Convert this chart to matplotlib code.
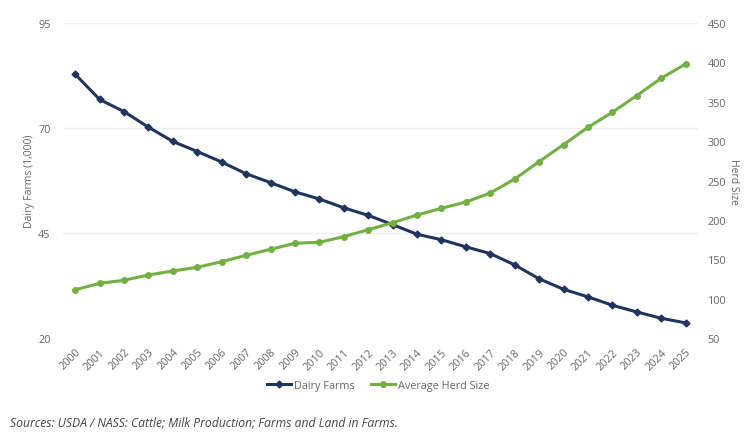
import numpy as np
import matplotlib
matplotlib.use("Agg")
import matplotlib.pyplot as plt

plt.rcParams['font.family'] = ['Open Sans', 'DejaVu Sans']

years = [str(y) for y in range(2000, 2026)]
dairy_farms = [82.8, 76.8, 73.9, 70.2, 66.8, 64.4, 61.9, 59.1, 57.0, 54.8,
               53.1, 51.0, 49.2, 47.0, 44.7, 43.4, 41.7, 40.1, 37.4, 34.1,
               31.6, 29.8, 27.8, 26.2, 24.7, 23.6]
herd_size = [111.3, 119.4, 123.3, 130.0, 135.1, 139.8, 146.9, 155.0, 162.6,
             170.3, 171.5, 178.7, 187.5, 196.4, 206.2, 214.7, 222.7, 234.1,
             251.9, 273.9, 295.5, 317.5, 336.6, 357.8, 379.9, 397.9]
left_ticks = [20, 45, 70, 95]
right_ticks = [50, 100, 150, 200, 250, 300, 350, 400, 450]

navy = '#1f3560'
green = '#72b043'
tick_col = '#666666'

fig = plt.figure(figsize=(7.56, 4.35), dpi=100)
ax = fig.add_axes([0.0833, 0.2207, 0.8397, 0.7241])
ax2 = ax.twinx()

x = np.arange(len(years))
l1, = ax.plot(x, dairy_farms, color=navy, lw=2.2, marker='D', ms=3.5,
              label='Dairy Farms', zorder=3)
l2, = ax2.plot(x, herd_size, color=green, lw=2.2, marker='o', ms=4,
               label='Average Herd Size', zorder=3)

ax.set_xlim(-0.5, len(years) - 0.5)
ax.set_ylim(20, 95)
ax.set_yticks(left_ticks)
ax2.set_ylim(50, 450)
ax2.set_yticks(right_ticks)
ax.set_xticks(x)
ax.set_xticklabels(years, rotation=45, ha='right', rotation_mode='anchor')

ax.grid(axis='y', color='#eeeeee', lw=1)
ax.set_axisbelow(True)
for a in (ax, ax2):
    for s in a.spines.values():
        s.set_visible(False)
    a.tick_params(length=0, labelsize=7.8, colors=tick_col)
ax.tick_params(axis='y', pad=9)
ax2.tick_params(axis='y', pad=7)
ax.tick_params(axis='x', pad=6)

ax.set_ylabel('Dairy Farms (1,000)', fontsize=7.5, color=tick_col, labelpad=2)
ax2.set_ylabel('Herd Size', fontsize=7.5, color=tick_col, rotation=270,
               labelpad=9)

fig.legend(handles=[l1, l2], loc='center', bbox_to_anchor=(0.5, 0.112),
           ncol=2, frameon=False, fontsize=7.8, handlelength=2.2,
           columnspacing=1.5, handletextpad=0.3, labelcolor=tick_col)

fig.text(0.013, 0.02, 'Sources: USDA / NASS: Cattle; Milk Production; '
         'Farms and Land in Farms.', fontsize=8.7, style='italic',
         color='#444444')

fig.savefig('out.png', dpi=100)
